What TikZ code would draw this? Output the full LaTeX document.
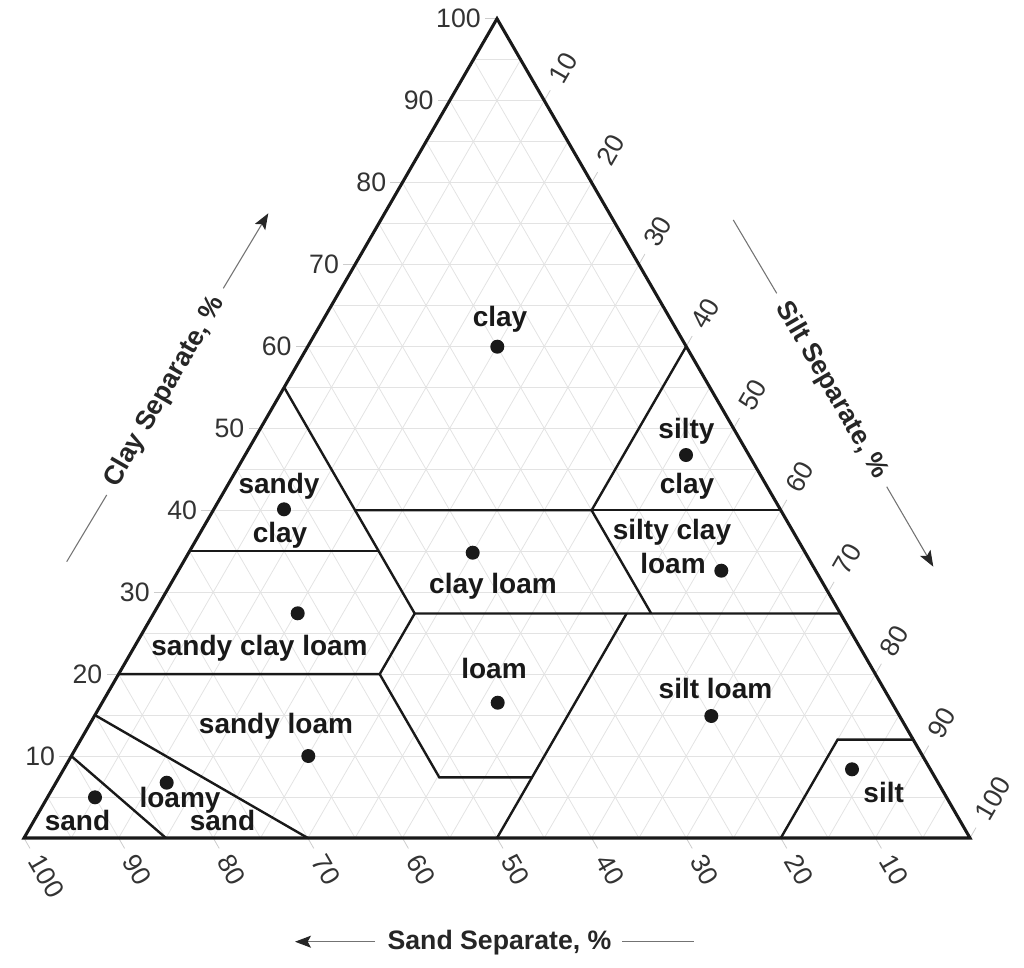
\documentclass[tikz,border=0pt]{standalone}
\usepackage{fontspec}
\setmainfont{Liberation Sans}
\usetikzlibrary{calc,arrows.meta}
\begin{document}
\begin{tikzpicture}[x=0.75pt,y=-0.75pt,
  gridline/.style={draw=black!11, line width=0.6pt},
  tickline/.style={draw=black!20, line width=0.6pt},
  border/.style={draw=black!90, line width=2.3pt, line join=miter},
  bound/.style={draw=black!90, line width=1.8pt, line join=miter},
  dot/.style={circle, fill=black!90, inner sep=0pt, minimum size=10.5pt},
  lab/.style={font=\fontsize{21}{25}\selectfont\bfseries, text=black!90, inner sep=0pt, anchor=base},
  ticklab/.style={font=\fontsize{20}{24}\selectfont, text=black!80, inner sep=0pt},
  axtitle/.style={font=\fontsize{20}{24}\selectfont\bfseries, text=black!85, inner sep=0pt},
  axline/.style={draw=black!55, line width=0.8pt},
  axarrow/.style={axline, -{Stealth[length=12pt,width=9pt,inset=2.5pt,color=black!85]}}
]
\useasboundingbox (0,0) rectangle (1024,967);
\coordinate (SA) at (24,838);
\coordinate (SI) at (970,838);
\coordinate (CL) at (497,18.7);
% point from (sand, silt, clay) percentages
\newcommand{\tp}[3]{({24+9.46*((#2)+0.5*(#3))},{838-8.193*(#3)})}

% grid every 5 %
\foreach \k in {5,10,...,95} {
  \draw[gridline] ($(SA)!\k/100!(CL)$) -- ($(SI)!\k/100!(CL)$);
  \draw[gridline] ($(SA)!\k/100!(CL)$) -- ($(SA)!\k/100!(SI)$);
  \draw[gridline] ($(SA)!\k/100!(SI)$) -- ($(CL)!\k/100!(SI)$);
}

% ticks and tick labels
\foreach \k in {10,20,...,100} {
  \coordinate (cl\k) at ($(SA)!\k/100!(CL)$);
  \draw[tickline] (cl\k) -- ++(-12,0);
  \node[ticklab, anchor=east] (clab\k) at ($(cl\k)+(-16,0)$) {\k};
  \coordinate (si\k) at ($(CL)!\k/100!(SI)$);
  \draw[tickline] (si\k) -- ++(6,-10.4);
  \node[ticklab, anchor=west, rotate=60] (silab\k) at ($(si\k)+(11.5,-19.9)$) {\k};
  \coordinate (sa\k) at ($(SI)!\k/100!(SA)$);
  \draw[tickline] (sa\k) -- ++(6,10.4);
  \node[ticklab, anchor=west, rotate=-60] (salab\k) at ($(sa\k)+(11,19)$) {\k};
}

% texture class boundaries (sand, silt, clay)
\draw[bound] \tp{45}{0}{55} -- \tp{45}{15}{40} -- \tp{20}{40}{40} -- \tp{0}{40}{60};
\draw[bound] \tp{20}{40}{40} -- \tp{0}{60}{40};
\draw[bound] \tp{65}{0}{35} -- \tp{45}{20}{35};
\draw[bound] \tp{45}{15}{40} -- \tp{45}{27.6}{27.4} -- \tp{0}{72.6}{27.4};
\draw[bound] \tp{20}{40}{40} -- \tp{20}{52.6}{27.4};
\draw[bound] \tp{45}{27.6}{27.4} -- \tp{52.4}{27.6}{20} -- \tp{80}{0}{20};
\draw[bound] \tp{52.4}{27.6}{20} -- \tp{52.4}{40.2}{7.4} -- \tp{42.6}{50}{7.4};
\draw[bound] \tp{22.6}{50}{27.4} -- \tp{50}{50}{0};
\draw[bound] \tp{85}{0}{15} -- \tp{70}{30}{0};
\draw[bound] \tp{90}{0}{10} -- \tp{85}{15}{0};
\draw[bound] \tp{0}{88}{12} -- \tp{8}{80}{12} -- \tp{20}{80}{0};

% outer triangle
\draw[border] (SA) -- (SI) -- (CL) -- cycle;

% dots
\node[dot] (dclay) at (497.3,346.7) {};
\node[dot] (dsiltyclay) at (686,455) {};
\node[dot] (dsandyclay) at (284,509.3) {};
\node[dot] (dclayloam) at (472.7,552.7) {};
\node[dot] (dsiltyclayloam) at (721.3,570.7) {};
\node[dot] (dsandyclayloam) at (297.7,613.3) {};
\node[dot] (dloam) at (497.7,702.7) {};
\node[dot] (dsiltloam) at (711.3,716) {};
\node[dot] (dsandyloam) at (308.3,756) {};
\node[dot] (dloamysand) at (166.7,782.7) {};
\node[dot] (dsand) at (95,797.3) {};
\node[dot] (dsilt) at (852,769.3) {};

% class labels
\node[lab] (lclay) at (500,326) {clay};
\node[lab] (lsilty) at (686.5,438.5) {silty};
\node[lab] (lsiltyb) at (687,493) {clay};
\node[lab] (lsandy) at (279,493) {sandy};
\node[lab] (lsandyb) at (280,542) {clay};
\node[lab] (lclayloam) at (493,593) {clay loam};
\node[lab] (lsandyclayloam) at (259.5,655) {sandy clay loam};
\node[lab] (lloam) at (494,678) {loam};
\node[lab] (lsandyloam) at (276,733) {sandy loam};
\node[lab] (lscl) at (672,539.5) {silty clay};
\node[lab] (lsclb) at (673,573) {loam};
\node[lab] (lsiltloam) at (715.5,698) {silt loam};
\node[lab] (lsilt) at (883.7,802.5) {silt};
\node[lab] (lloamy) at (180,807) {loamy};
\node[lab] (lloamyb) at (222.5,830) {sand};
\node[lab] (lsand) at (77.5,830) {sand};

% axis titles
\node[axtitle, anchor=base] (tsand) at (499.5,949.5) {Sand Separate, \%};
\coordinate (sa1) at (375,941.7); \coordinate (sa2) at (295,941.7);
\coordinate (sa3) at (622,941.7); \coordinate (sa4) at (693.7,941.7);
\draw[axarrow] (sa1) -- (sa2);
\draw[axline] (sa3) -- (sa4);

\node[axtitle, rotate=60] (tclay) at (165,391.5) {Clay Separate, \%};
\coordinate (ca1) at (66.7,561.7); \coordinate (ca2) at (106.7,495);
\coordinate (ca3) at (223.3,288.3); \coordinate (ca4) at (268.3,213.3);
\draw[axline] (ca1) -- (ca2);
\draw[axarrow] (ca3) -- (ca4);

\node[axtitle, rotate=-60] (tsilt) at (831.7,390.4) {Silt Separate, \%};
\coordinate (ta1) at (733.3,220); \coordinate (ta2) at (776.7,293.3);
\coordinate (ta3) at (886.7,486.7); \coordinate (ta4) at (933.3,566.7);
\draw[axline] (ta1) -- (ta2);
\draw[axarrow] (ta3) -- (ta4);
\end{tikzpicture}
\end{document}
